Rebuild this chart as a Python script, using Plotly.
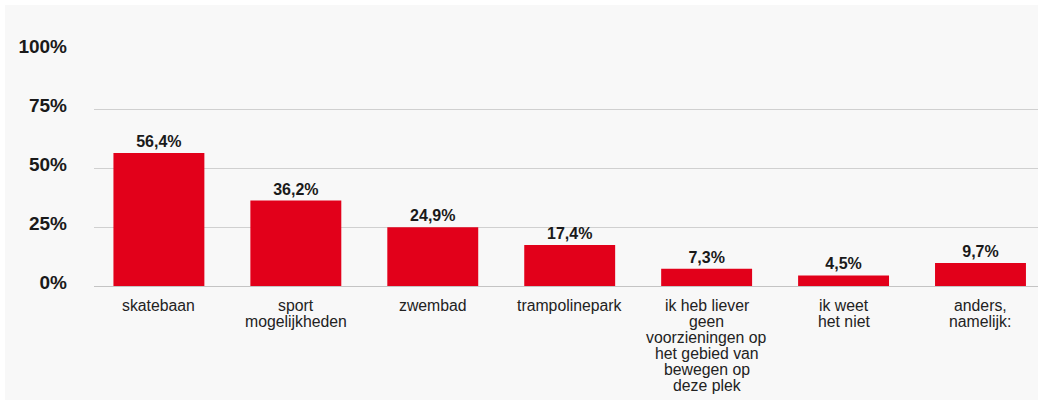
import plotly.graph_objects as go

# categories (line breaks as in the original labels)
categories = [
    "skatebaan",
    "sport<br>mogelijkheden",
    "zwembad",
    "trampolinepark",
    "ik heb liever<br>geen<br>voorzieningen op<br>het gebied van<br>bewegen op<br>deze plek",
    "ik weet<br>het niet",
    "anders,<br>namelijk:",
]
percentages = [56.4, 36.2, 24.9, 17.4, 7.3, 4.5, 9.7]
y_ticks = [0, 25, 50, 75, 100]
y_tick_labels = ["0%", "25%", "50%", "75%", "100%"]

red = "#e2001a"
font_family = "Liberation Sans, Arial, sans-serif"

fig = go.Figure()

fig.add_trace(go.Bar(
    x=list(range(len(categories))),
    y=percentages,
    width=0.664,
    marker=dict(color=red, line=dict(width=0)),
    texttemplate="%{y:.1f}%",
    textposition="outside",
    textfont=dict(family=font_family, size=16, color="#1a1a1a", weight="bold"),
    cliponaxis=False,
    hoverinfo="skip",
))

# category labels, one annotation per line to get the tight line spacing
for i, label in enumerate(categories):
    for j, line in enumerate(label.split("<br>")):
        fig.add_annotation(
            x=i, y=0, xref="x", yref="y",
            text=line, showarrow=False,
            xanchor="center", yanchor="middle",
            yshift=-19 - 16 * j,
            font=dict(family=font_family, size=15.8, color="#222222"),
        )

# light grey panel behind the chart
fig.add_shape(
    type="rect", xref="paper", yref="paper",
    x0=-0.0943, x1=1.02, y0=-0.6, y1=1.191,
    fillcolor="#f8f8f8", line=dict(width=0), layer="below",
)

fig.update_layout(
    width=1038, height=400,
    margin=dict(l=94, r=0, t=50, b=114),
    paper_bgcolor="white",
    plot_bgcolor="rgba(0,0,0,0)",
    separators=",.",
    showlegend=False,
    xaxis=dict(
        range=[-0.474, 6.42],
        showticklabels=False,
        showgrid=False,
        zeroline=False,
        showline=False,
        fixedrange=True,
    ),
    yaxis=dict(
        range=[0, 100],
        tickmode="array",
        tickvals=y_ticks,
        ticktext=y_tick_labels,
        tickfont=dict(family=font_family, size=19, color="#1a1a1a", weight="bold"),
        ticklabelstandoff=26,
        ticklabelshift=-4,
        showgrid=True,
        gridcolor="#d0d0d0",
        gridwidth=1,
        zeroline=True,
        zerolinecolor="#c4c4c4",
        zerolinewidth=1,
        showline=False,
        fixedrange=True,
    ),
)

fig.write_html(
    "out.html",
    config={"displayModeBar": False},
    post_script="document.body.style.margin='0';document.body.style.overflow='hidden';",
)
